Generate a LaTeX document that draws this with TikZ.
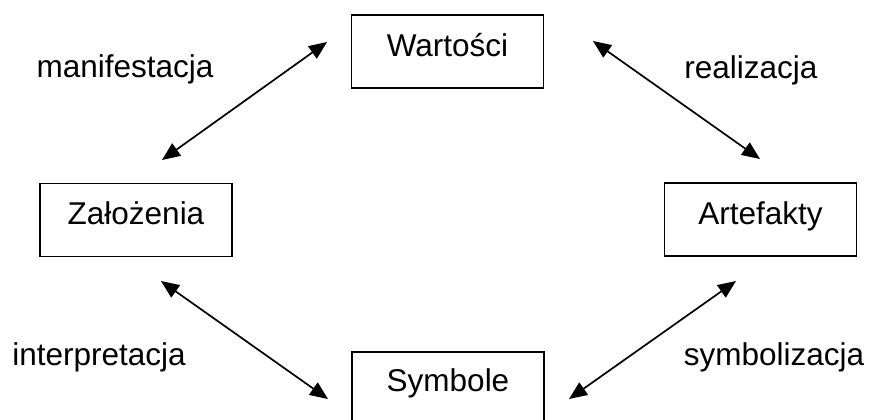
\documentclass[tikz,border=0pt]{standalone}
\usepackage{fontspec}
\setmainfont{Liberation Sans}
\usetikzlibrary{arrows.meta}

\tikzset{
  box/.style={draw=black, line width=1.4bp, minimum width=192bp, minimum height=73bp, inner sep=0pt},
  txt/.style={font=\fontsize{31.5bp}{38bp}\selectfont, inner sep=0pt, anchor=base},
  link/.style={line width=1.7bp, {Triangle[length=18bp,width=15bp]}-{Triangle[length=18bp,width=15bp]}}
}

\begin{document}
\begin{tikzpicture}[x=1bp, y=-1bp]
  \useasboundingbox (0,0) rectangle (869,419);

  % the four boxes
  \node[box] (W) at (447.5,51.5) {};
  \node[box] (Z) at (136,220) {};
  \node[box] (A) at (760.5,219.5) {};
  \node[box] (S) at (448,388.5) {};

  % box captions, set near the top of each box
  \node[txt] (Wt) at ([yshift=-42bp]W.north) {Wartości};
  \node[txt] (Zt) at ([yshift=-42bp]Z.north) {Założenia};
  \node[txt] (At) at ([yshift=-42bp]A.north) {Artefakty};
  \node[txt] (St) at ([yshift=-40bp]S.north) {Symbole};

  % arrow end points
  \coordinate (wz1) at (327,42);
  \coordinate (wz2) at (162,160);
  \coordinate (wa1) at (593,41);
  \coordinate (wa2) at (760,159);
  \coordinate (zs1) at (161,281);
  \coordinate (zs2) at (328,399);
  \coordinate (as1) at (736,281);
  \coordinate (as2) at (569,399);

  \draw[link] (wz1) -- (wz2);
  \draw[link] (wa1) -- (wa2);
  \draw[link] (zs1) -- (zs2);
  \draw[link] (as1) -- (as2);

  % relation labels
  \node[txt] (lm) at (125,77) {manifestacja};
  \node[txt] (lr) at (751,78) {realizacja};
  \node[txt] (li) at (99,365) {interpretacja};
  \node[txt] (ls) at (774,365) {symbolizacja};
\end{tikzpicture}
\end{document}
